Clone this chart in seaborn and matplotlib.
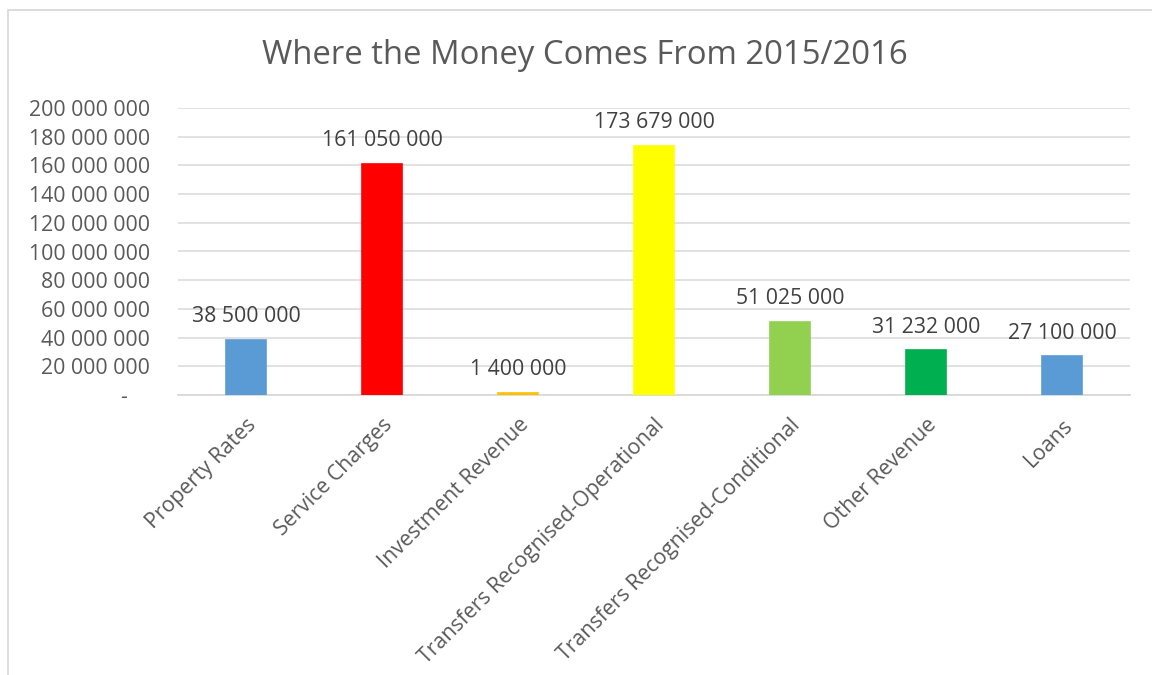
import matplotlib
matplotlib.use("Agg")
import matplotlib.pyplot as plt
import matplotlib.patches as mpatches
from matplotlib.ticker import FuncFormatter, MultipleLocator
import seaborn as sns
import pandas as pd

# Revenue sources, 2015/2016 budget
categories = [
    "Property Rates",
    "Service Charges",
    "Investment Revenue",
    "Transfers Recognised-Operational",
    "Transfers Recognised-Conditional",
    "Other Revenue",
    "Loans",
]
amounts = [38_500_000, 161_050_000, 1_400_000, 173_679_000, 51_025_000, 31_232_000, 27_100_000]
bar_colors = ["#5B9BD5", "#FF0000", "#FFC000", "#FFFF00", "#92D050", "#00B050", "#5B9BD5"]

title_text = "Where the Money Comes From 2015/2016"

TEXT = "#595959"
GRID = "#D9D9D9"
FS = 15.3

sns.set_theme(style="white")
plt.rcParams["font.family"] = ["Open Sans", "DejaVu Sans"]

df = pd.DataFrame({"category": categories, "amount": amounts})

fig = plt.figure(figsize=(11.52, 6.75), dpi=100)
ax = fig.add_axes([178 / 1152, 1 - 395 / 675, (1130 - 178) / 1152, (395 - 108) / 675])

sns.barplot(
    data=df, x="category", y="amount", hue="category",
    palette=dict(zip(categories, bar_colors)), legend=False,
    width=0.30, saturation=1, ax=ax, zorder=3,
)

# thin outline in each bar's own colour so very small values stay visible
for patch in ax.patches:
    patch.set_edgecolor(patch.get_facecolor())
    patch.set_linewidth(1.2)


def spaced(v):
    return f"{v:,.0f}".replace(",", " ")


for cont, val in zip(ax.containers, amounts):
    ax.bar_label(cont, labels=[spaced(val)], padding=9, fontsize=FS, color="#404040")

ax.set_ylim(0, 200_000_000)
ax.set_xlim(-0.5, len(categories) - 0.5)
ax.yaxis.set_major_locator(MultipleLocator(20_000_000))
ax.yaxis.set_major_formatter(FuncFormatter(lambda v, p: "-    " if v == 0 else spaced(v)))
ax.grid(axis="y", color=GRID, linewidth=1.1, zorder=0)
ax.set_axisbelow(True)

for s in ["left", "right", "top"]:
    ax.spines[s].set_visible(False)
ax.spines["bottom"].set_color(GRID)
ax.spines["bottom"].set_linewidth(1.3)

ax.tick_params(axis="y", length=0, pad=20, labelsize=FS, labelcolor=TEXT)
ax.tick_params(axis="x", length=0, pad=14, labelsize=FS, labelcolor=TEXT)
ax.set_xlabel("")
ax.set_ylabel("")
for lbl in ax.get_xticklabels():
    lbl.set_rotation(45)
    lbl.set_ha("right")
    lbl.set_va("top")
    lbl.set_rotation_mode("anchor")

fig.text(585 / 1152, 1 - 55 / 675, title_text, ha="center", va="center",
         fontsize=23.7, color=TEXT)

# chart frame
frame = mpatches.Rectangle((7.5 / 1152, -0.1), 1.2, 1 - 10.5 / 675 + 0.1,
                           transform=fig.transFigure, fill=False,
                           edgecolor=GRID, linewidth=1.3, clip_on=False)
fig.patches.append(frame)

fig.savefig("out.png", dpi=100, facecolor="white")
